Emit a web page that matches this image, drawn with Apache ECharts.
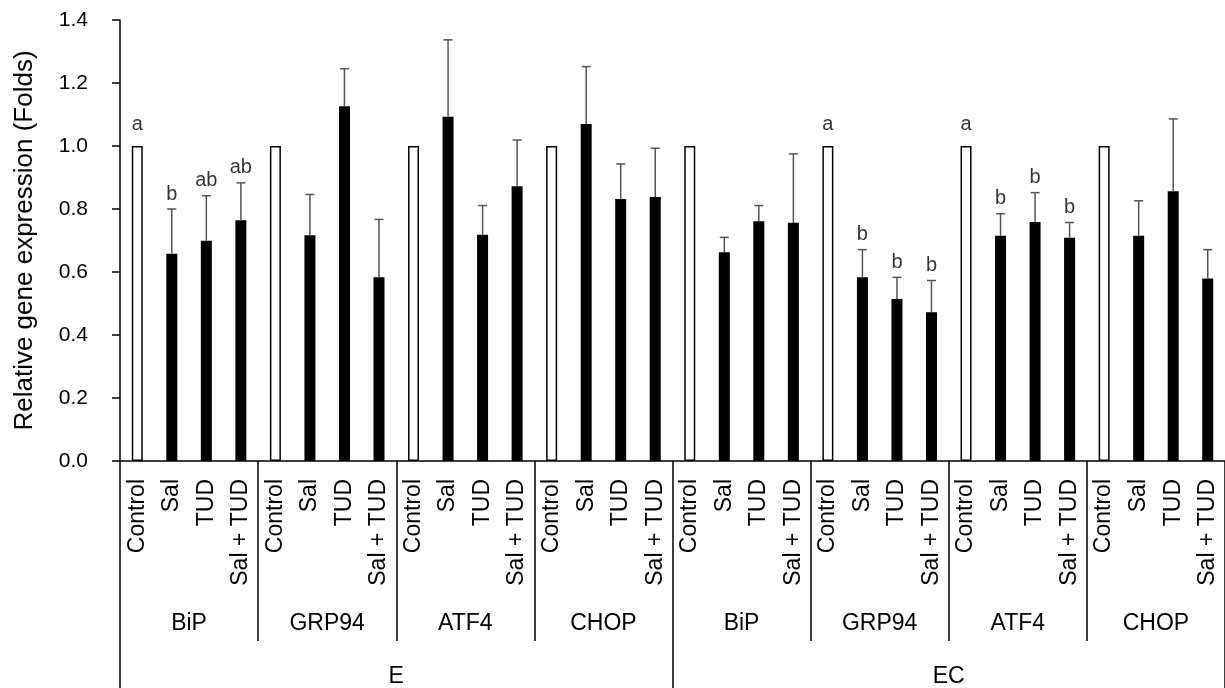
<!DOCTYPE html>
<html><head><meta charset="utf-8">
<script src="https://cdn.jsdelivr.net/npm/echarts@6/dist/echarts.min.js"></script>
<style>html,body{margin:0;padding:0;background:#fff}#c{width:1225px;height:688px}</style>
</head><body><div id="c"></div>
<script>
// ---- data ----
const treatments = ["Control","Sal","TUD","Sal + TUD","Control","Sal","TUD","Sal + TUD",
  "Control","Sal","TUD","Sal + TUD","Control","Sal","TUD","Sal + TUD",
  "Control","Sal","TUD","Sal + TUD","Control","Sal","TUD","Sal + TUD",
  "Control","Sal","TUD","Sal + TUD","Control","Sal","TUD","Sal + TUD"];
const genes = ["BiP","GRP94","ATF4","CHOP","BiP","GRP94","ATF4","CHOP"];
const tissues = ["E","EC"];
const means = [
  1, 0.658, 0.699, 0.764,
  1, 0.717, 1.126, 0.583,
  1, 1.093, 0.718, 0.872,
  1, 1.070, 0.832, 0.838,
  1, 0.663, 0.761, 0.756,
  1, 0.583, 0.514, 0.472,
  1, 0.715, 0.759, 0.709,
  1, 0.715, 0.856, 0.579];
const errors = [
  null, 0.142, 0.143, 0.119,
  null, 0.129, 0.119, 0.184,
  null, 0.244, 0.093, 0.147,
  null, 0.182, 0.111, 0.155,
  null, 0.047, 0.050, 0.219,
  null, 0.088, 0.069, 0.101,
  null, 0.070, 0.093, 0.048,
  null, 0.111, 0.230, 0.092];
const letters = [
  "a","b","ab","ab", "","","","", "","","","", "","","","",
  "","","","", "a","b","b","b", "a","b","b","b", "","","",""];
const yMin = 0, yMax = 1.4, yStep = 0.2;

// ---- chart ----
const FONT = '"Liberation Sans", Arial, sans-serif';
const chart = echarts.init(document.getElementById('c'), null, {renderer: 'canvas'});

const barData = means.map((v, i) => ({
  value: v,
  itemStyle: {color: treatments[i] === 'Control' ? '#ffffff' : '#000000'}
}));
const errData = [];
means.forEach((v, i) => { if (errors[i] != null) errData.push([i, v, errors[i]]); });
const letterCtl = [], letterOther = [];
means.forEach((v, i) => {
  if (!letters[i]) return;
  const top = v + (errors[i] || 0);
  (errors[i] == null ? letterCtl : letterOther).push({value: [i, top], name: letters[i]});
});

const blackLine = {color: '#000', width: 1.5};
chart.setOption({
  backgroundColor: '#fff',
  animation: false,
  grid: {left: 120, right: -3, top: 20, bottom: 227, containLabel: false},
  xAxis: [
    {
      type: 'category', position: 'bottom', data: treatments,
      axisLine: {show: true, lineStyle: blackLine},
      axisTick: {show: false},
      axisLabel: {interval: 0, rotate: 90, margin: 18, color: '#000',
        fontFamily: FONT, fontSize: 23}
    },
    {
      type: 'category', position: 'bottom', data: genes,
      axisLine: {show: false},
      axisTick: {show: true, interval: 0, length: 180, lineStyle: blackLine},
      axisLabel: {interval: 0, margin: 151, color: '#000', fontFamily: FONT, fontSize: 23}
    },
    {
      type: 'category', position: 'bottom', data: tissues,
      axisLine: {show: false},
      axisTick: {show: true, interval: 0, length: 240, lineStyle: blackLine},
      axisLabel: {interval: 0, margin: 204, color: '#000', fontFamily: FONT, fontSize: 23}
    }
  ],
  yAxis: {
    type: 'value', min: yMin, max: yMax, interval: yStep,
    name: 'Relative gene expression (Folds)', nameLocation: 'middle', nameGap: 82,
    nameTextStyle: {color: '#000', fontFamily: FONT, fontSize: 26},
    axisLine: {show: true, lineStyle: blackLine},
    axisTick: {show: true, length: 8, lineStyle: blackLine},
    splitLine: {show: false},
    axisLabel: {margin: 32, color: '#000', fontFamily: FONT, fontSize: 21,
      formatter: v => v.toFixed(1)}
  },
  series: [
    {
      type: 'bar', xAxisIndex: 0, data: barData, barWidth: 11,
      itemStyle: {borderColor: '#000', borderWidth: 1.5},
      z: 2
    },
    {
      type: 'custom', xAxisIndex: 0, data: errData, z: 3,
      renderItem: function (params, api) {
        const i = api.value(0), m = api.value(1), e = api.value(2);
        const p0 = api.coord([i, m]);
        const p1 = api.coord([i, m + e]);
        const cap = 4.5;
        const style = {stroke: '#555', lineWidth: 1.5};
        return {type: 'group', children: [
          {type: 'line', shape: {x1: p0[0], y1: p0[1], x2: p1[0], y2: p1[1]}, style: style},
          {type: 'line', shape: {x1: p1[0] - cap, y1: p1[1], x2: p1[0] + cap, y2: p1[1]}, style: style}
        ]};
      }
    },
    {
      type: 'scatter', xAxisIndex: 0, data: letterCtl, symbolSize: 0, z: 4,
      label: {show: true, position: 'top', distance: 12, formatter: p => p.name,
        color: '#000', fontFamily: FONT, fontSize: 20}
    },
    {
      type: 'scatter', xAxisIndex: 0, data: letterOther, symbolSize: 0, z: 4,
      label: {show: true, position: 'top', distance: 5, formatter: p => p.name,
        color: '#000', fontFamily: FONT, fontSize: 20}
    }
  ]
});
</script>
</body></html>
